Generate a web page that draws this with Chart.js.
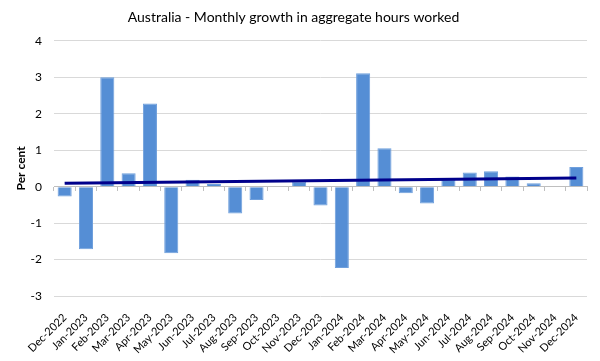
<!DOCTYPE html>
<html>
<head>
<meta charset="utf-8">
<script src="https://cdn.jsdelivr.net/npm/chart.js@4/dist/chart.umd.min.js"></script>
<style>
  html, body { margin: 0; padding: 0; background: #fff; }
  #wrap { width: 600px; height: 361px; }
</style>
</head>
<body>
<div id="wrap"><canvas id="myChart"></canvas></div>
<script>
// monthly growth in aggregate hours worked (per cent)
const months = ['Dec-2022', 'Jan-2023', 'Feb-2023', 'Mar-2023', 'Apr-2023', 'May-2023', 'Jun-2023',
    'Jul-2023', 'Aug-2023', 'Sep-2023', 'Oct-2023', 'Nov-2023', 'Dec-2023', 'Jan-2024', 'Feb-2024',
    'Mar-2024', 'Apr-2024', 'May-2024', 'Jun-2024', 'Jul-2024', 'Aug-2024', 'Sep-2024', 'Oct-2024',
    'Nov-2024', 'Dec-2024'];
const growth = [-0.27, -1.72, 3.0, 0.37, 2.28, -1.83, 0.19, 0.07, -0.74, -0.37, 0, 0.14, -0.52,
    -2.23, 3.11, 1.05, -0.18, -0.46, 0.19, 0.39, 0.42, 0.28, 0.09, 0, 0.54];
// trend line: only the two ends are read, the line joins them
const trend = [0.09, null, null, null, null, null, null, null, null, null, null, null, null,
    null, null, null, null, null, null, null, null, null, null, null, 0.24];
const yTicks = [-3, -2, -1, 0, 1, 2, 3, 4];

const font = 'Lato, "Open Sans", sans-serif';

let chartContext = document.getElementById('myChart').getContext('2d');

let myChart = new Chart(chartContext, {
    data: {
        labels: months,
        datasets: [{
            type: 'line',
            data: trend,
            spanGaps: true,
            borderColor: '#00008b',
            borderWidth: 3,
            pointRadius: 0,
            order: 0
        }, {
            type: 'bar',
            data: growth,
            backgroundColor: '#558ed5',
            borderColor: '#6f9fdc',
            borderWidth: 1,
            barPercentage: 0.66,
            categoryPercentage: 1,
            order: 1
        }]
    },
    options: {
        responsive: true,
        maintainAspectRatio: false,
        animation: false,
        layout: {
            padding: { top: 3, right: 13, bottom: 0, left: 0 }
        },
        plugins: {
            legend: { display: false },
            tooltip: { enabled: false },
            title: {
                display: true,
                text: 'Australia - Monthly growth in aggregate hours worked',
                color: '#000',
                font: { family: font, size: 14, weight: 'normal' },
                padding: { top: 6, bottom: 15 }
            }
        },
        scales: {
            x: {
                offset: true,
                grid: { display: false },
                border: { display: false },
                ticks: {
                    color: '#000',
                    font: { family: font, size: 11 },
                    minRotation: 45,
                    maxRotation: 45,
                    autoSkip: false,
                    padding: 7
                },
                afterFit: (scale) => { scale.height = 65; }
            },
            x0: {
                type: 'category',
                position: { y: 0 },
                offset: true,
                ticks: { display: false },
                grid: {
                    offset: true,
                    drawOnChartArea: false,
                    tickLength: 4,
                    color: '#bfbfbf'
                },
                border: { color: '#bfbfbf', width: 1 }
            },
            y: {
                min: -3,
                max: 4,
                afterBuildTicks: (scale) => { scale.ticks = yTicks.map(v => ({ value: v })); },
                grid: { color: '#d9d9d9', drawTicks: false },
                border: { display: false },
                ticks: {
                    color: '#000',
                    font: { family: font, size: 12 },
                    padding: 12
                },
                title: {
                    display: true,
                    text: 'Per cent',
                    color: '#000',
                    font: { family: font, size: 12, weight: 'bold' },
                    padding: { top: 14, bottom: 0 }
                },
                afterFit: (scale) => { scale.width = 54; }
            }
        }
    }
});
</script>
</body>
</html>
